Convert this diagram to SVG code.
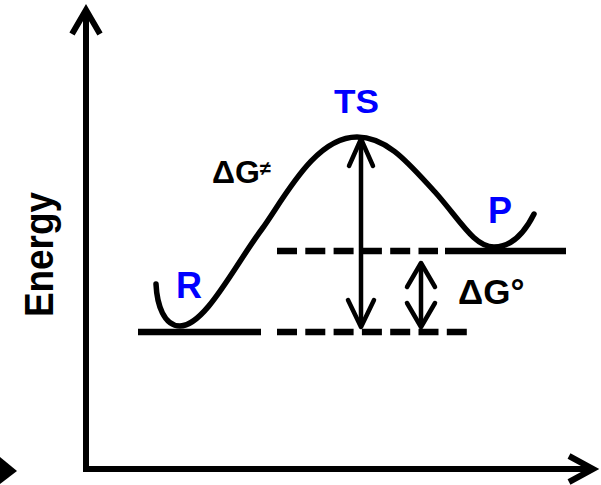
<svg xmlns="http://www.w3.org/2000/svg" width="601" height="485" viewBox="0 0 601 485">
  <style>
    .ax { fill: none; stroke: #000; stroke-width: 6; stroke-linecap: butt; stroke-linejoin: miter; }
    .lvl { fill: none; stroke: #000; stroke-width: 6.5; }
    .dash { stroke-dasharray: 20 8.3; }
    .crv { fill: none; stroke: #000; stroke-width: 5.5; stroke-linecap: round; }
    .arr { fill: none; stroke: #000; stroke-width: 4.5; stroke-linecap: round; stroke-linejoin: round; }
    .lbl { font-family: "Liberation Sans", Arial, sans-serif; font-weight: bold; }
    .blue { fill: #0000ff; }
    .blk { fill: #000; }
  </style>
  <rect x="0" y="0" width="601" height="485" fill="#fff"/>

  <g id="axes">
    <g id="y-axis">
      <line class="ax" x1="86" y1="472" x2="86" y2="12"/>
      <polyline class="ax" points="72,34 86,10 100,34"/>
    </g>
    <g id="x-axis">
      <line class="ax" x1="83" y1="469" x2="590" y2="469"/>
      <polyline class="ax" points="569,456 593,469 569,482"/>
    </g>
    <polygon id="edge-arrow" points="0,457 17,471 0,484" fill="#000"/>
  </g>

  <g id="levels">
    <line class="lvl" x1="138" y1="332" x2="261" y2="332"/>
    <line class="lvl dash" x1="277" y1="332" x2="468" y2="332"/>
    <line class="lvl dash" x1="277" y1="251" x2="438" y2="251"/>
    <line class="lvl" x1="445" y1="251" x2="566" y2="251"/>
  </g>

  <g id="curve">
    <path class="crv" d="M156,284 C157,305 164,326 180,326 C205,326 235,265 262,229 C285,197 315,137 357,137 C388,137 410,165 435,192 C460,220 474,247 494,247 C512,247 525,232 534,214"/>
  </g>

  <g id="connectors">
    <g id="dG-activation">
      <line class="arr" x1="361" y1="140" x2="361" y2="325"/>
      <polyline class="arr" points="349,166 361,139 373,166"/>
      <polyline class="arr" points="348,300 361,327 374,300"/>
    </g>
    <g id="dG-standard">
      <line class="arr" x1="421" y1="264" x2="421" y2="326"/>
      <polyline class="arr" points="407,287 421,263 435,287"/>
      <polyline class="arr" points="407,303 421,327 435,303"/>
    </g>
  </g>

  <g id="label-energy">
    <text class="lbl blk" transform="translate(53,254.5) rotate(-90)" text-anchor="middle" font-size="40" textLength="125" lengthAdjust="spacingAndGlyphs">Energy</text>
  </g>
  <g id="node-TS">
    <text class="lbl blue" x="356.5" y="113" text-anchor="middle" font-size="33" textLength="45" lengthAdjust="spacingAndGlyphs">TS</text>
  </g>
  <g id="node-R">
    <text class="lbl blue" x="176" y="298" font-size="36">R</text>
  </g>
  <g id="node-P">
    <text class="lbl blue" x="488" y="223" font-size="36">P</text>
  </g>
  <g id="label-dG-act">
    <text class="lbl blk" x="212" y="183" font-size="32">ΔG<tspan font-size="20" dy="-8">≠</tspan></text>
  </g>
  <g id="label-dG-std">
    <text class="lbl blk" x="458" y="304" font-size="35">ΔG°</text>
  </g>
</svg>
